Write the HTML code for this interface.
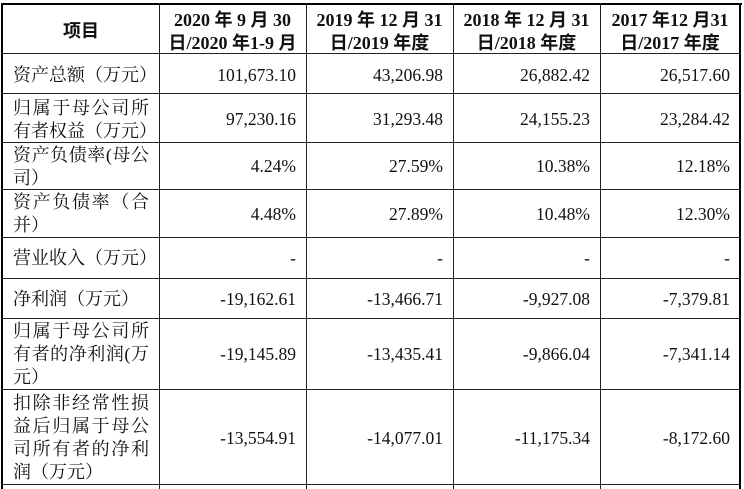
<!DOCTYPE html>
<html><head><meta charset="utf-8">
<style>
html,body{margin:0;padding:0;background:#fff;}
#w{position:relative;width:744px;height:489px;overflow:hidden;background:#fff;}
.l{position:absolute;background:#222;}
.b{position:absolute;background:#000;}
.t{position:absolute;height:23px;line-height:23px;white-space:nowrap;color:#111;}
.c{left:13px;width:136px;font-family:"Liberation Serif","Noto Serif CJK SC",serif;font-size:18px;}
.j{text-align:justify;text-align-last:justify;}
.n{font-family:"Liberation Serif",serif;font-size:17.5px;text-align:right;}
.c2{left:159px;width:137px;}
.c3{left:306px;width:137px;}
.c4{left:453px;width:137px;}
.c5{left:600px;width:130px;}
.h{font-family:"Liberation Serif","Noto Sans CJK SC",sans-serif;font-weight:bold;font-size:18px;text-align:center;color:#111;}
.hc2{left:159px;width:147px;}
.hc3{left:306px;width:147px;}
.hc4{left:453px;width:147px;}
.hc5{left:600px;width:140px;}
</style></head><body>
<div id="w">
<div class="b" style="left:1px;top:3px;width:741px;height:2px"></div>
<div class="b" style="left:1px;top:3px;width:2px;height:486px"></div>
<div class="b" style="left:739px;top:3px;width:2px;height:486px"></div>
<div class="l" style="left:159px;top:3px;width:1px;height:486px"></div>
<div class="l" style="left:306px;top:3px;width:1px;height:486px"></div>
<div class="l" style="left:453px;top:3px;width:1px;height:486px"></div>
<div class="l" style="left:600px;top:3px;width:1px;height:486px"></div>
<div class="l" style="left:1px;top:53px;width:740px;height:1px"></div>
<div class="l" style="left:1px;top:93px;width:740px;height:1px"></div>
<div class="l" style="left:1px;top:142px;width:740px;height:1px"></div>
<div class="l" style="left:1px;top:189px;width:740px;height:1px"></div>
<div class="l" style="left:1px;top:237px;width:740px;height:1px"></div>
<div class="l" style="left:1px;top:278px;width:740px;height:1px"></div>
<div class="l" style="left:1px;top:318px;width:740px;height:1px"></div>
<div class="l" style="left:1px;top:389px;width:740px;height:1px"></div>
<div class="l" style="left:1px;top:484px;width:740px;height:1px"></div>

<div class="t" style="left:3px;width:156px;top:18.5px;text-align:center;font-family:'Noto Sans CJK SC',sans-serif;font-weight:bold;font-size:18px;color:#111;">项目</div>
<div class="t h hc2" style="top:8.5px">2020 年 9 月 30</div>
<div class="t h hc2" style="top:31.5px">日/2020 年1-9 月</div>
<div class="t h hc3" style="top:8.5px">2019 年 12 月 31</div>
<div class="t h hc3" style="top:31.5px">日/2019 年度</div>
<div class="t h hc4" style="top:8.5px">2018 年 12 月 31</div>
<div class="t h hc4" style="top:31.5px">日/2018 年度</div>
<div class="t h hc5" style="top:8.5px">2017 年12 月31</div>
<div class="t h hc5" style="top:31.5px">日/2017 年度</div>

<div class="t c" style="top:63.5px">资产总额（万元）</div>
<div class="t n c2" style="top:63.5px">101,673.10</div>
<div class="t n c3" style="top:63.5px">43,206.98</div>
<div class="t n c4" style="top:63.5px">26,882.42</div>
<div class="t n c5" style="top:63.5px">26,517.60</div>

<div class="t c j" style="top:96.5px">归属于母公司所</div>
<div class="t c" style="top:119.5px">有者权益（万元）</div>
<div class="t n c2" style="top:107.5px">97,230.16</div>
<div class="t n c3" style="top:107.5px">31,293.48</div>
<div class="t n c4" style="top:107.5px">24,155.23</div>
<div class="t n c5" style="top:107.5px">23,284.42</div>

<div class="t c j" style="top:143.5px">资产负债率(母公</div>
<div class="t c" style="top:166.5px">司）</div>
<div class="t n c2" style="top:155px">4.24%</div>
<div class="t n c3" style="top:155px">27.59%</div>
<div class="t n c4" style="top:155px">10.38%</div>
<div class="t n c5" style="top:155px">12.18%</div>

<div class="t c j" style="top:190.5px">资产负债率（合</div>
<div class="t c" style="top:213.5px">并）</div>
<div class="t n c2" style="top:202.5px">4.48%</div>
<div class="t n c3" style="top:202.5px">27.89%</div>
<div class="t n c4" style="top:202.5px">10.48%</div>
<div class="t n c5" style="top:202.5px">12.30%</div>

<div class="t c" style="top:246.5px">营业收入（万元）</div>
<div class="t n c2" style="top:247px">-</div>
<div class="t n c3" style="top:247px">-</div>
<div class="t n c4" style="top:247px">-</div>
<div class="t n c5" style="top:247px">-</div>

<div class="t c" style="top:287.5px">净利润（万元）</div>
<div class="t n c2" style="top:287.5px">-19,162.61</div>
<div class="t n c3" style="top:287.5px">-13,466.71</div>
<div class="t n c4" style="top:287.5px">-9,927.08</div>
<div class="t n c5" style="top:287.5px">-7,379.81</div>

<div class="t c j" style="top:319.5px">归属于母公司所</div>
<div class="t c j" style="top:342.5px">有者的净利润(万</div>
<div class="t c" style="top:365.5px">元）</div>
<div class="t n c2" style="top:342.5px">-19,145.89</div>
<div class="t n c3" style="top:342.5px">-13,435.41</div>
<div class="t n c4" style="top:342.5px">-9,866.04</div>
<div class="t n c5" style="top:342.5px">-7,341.14</div>

<div class="t c j" style="top:392px">扣除非经常性损</div>
<div class="t c j" style="top:415px">益后归属于母公</div>
<div class="t c j" style="top:438px">司所有者的净利</div>
<div class="t c" style="top:461px">润（万元）</div>
<div class="t n c2" style="top:426.5px">-13,554.91</div>
<div class="t n c3" style="top:426.5px">-14,077.01</div>
<div class="t n c4" style="top:426.5px">-11,175.34</div>
<div class="t n c5" style="top:426.5px">-8,172.60</div>

<div class="t c j" style="top:488px">经营活动产生的现</div>
</div>
</body></html>
